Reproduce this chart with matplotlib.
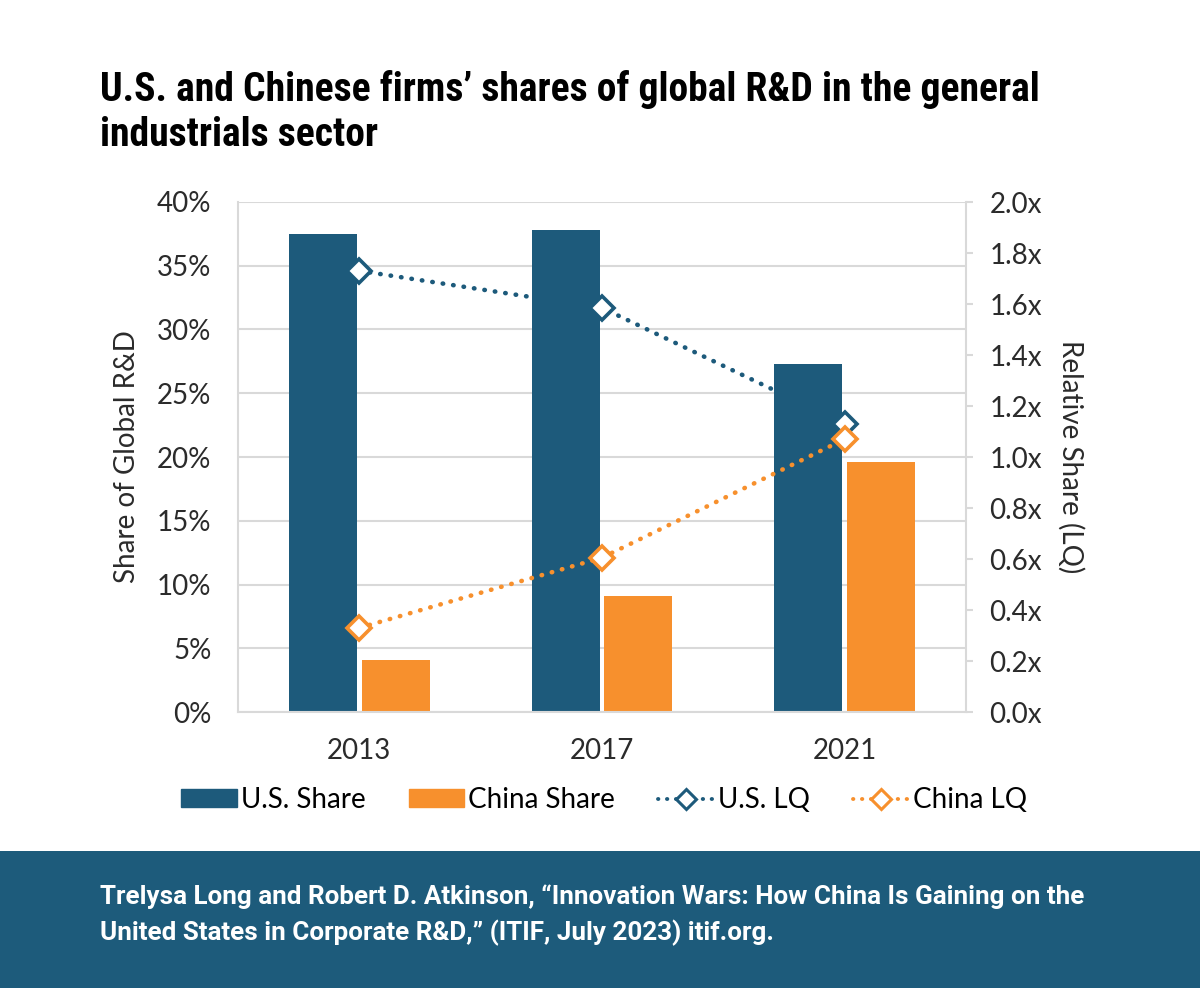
import numpy as np
import matplotlib
matplotlib.use('Agg')
from matplotlib import pyplot as plt
from matplotlib.patches import Patch, Rectangle
from matplotlib.lines import Line2D

years = ['2013', '2017', '2021']
us_share = [37.5, 37.8, 27.3]
china_share = [4.1, 9.1, 19.6]
us_lq = [1.73, 1.585, 1.13]
china_lq = [0.33, 0.605, 1.07]

blue = '#1d5a7b'
orange = '#f7902d'
grid = '#d9d9d9'
text_col = '#2b2b2b'
tick_font = ['Lato', 'DejaVu Sans']
title_font = ['Roboto Condensed', 'DejaVu Sans']
source_font = ['Roboto', 'DejaVu Sans']
dots = (0, (0.1, 2.2))

fig = plt.figure(figsize=(12, 9.88), dpi=100)
ax = fig.add_axes([238 / 1200, 1 - 712 / 988, 728 / 1200, 510 / 988])
ax2 = ax.twinx()

x = np.arange(len(years))
w = 0.28
ax.bar(x - 0.15, us_share, w, color=blue, zorder=2)
ax.bar(x + 0.15, china_share, w, color=orange, zorder=2)

ax.set_xlim(-0.5, 2.5)
ax.set_ylim(0, 40)
ax.set_yticks(np.arange(0, 41, 5))
ax.set_yticklabels([f'{v}%' for v in range(0, 41, 5)])
ax.set_xticks(x)
ax.set_xticklabels(years)
ax.yaxis.grid(True, color=grid, linewidth=1.5, zorder=0)
ax.set_axisbelow(True)
ax.tick_params(axis='y', length=0, pad=19, labelsize=20, labelcolor=text_col)
ax.tick_params(axis='x', length=0, pad=19, labelsize=20, labelcolor=text_col)
for side in ['top', 'right']:
    ax.spines[side].set_visible(False)
for side in ['left', 'bottom']:
    ax.spines[side].set_color(grid)
    ax.spines[side].set_linewidth(1.5)
ax.set_ylabel('Share of Global R&D', fontsize=20, color=text_col, labelpad=12,
              family=tick_font)

for vals, col in [(us_lq, blue), (china_lq, orange)]:
    ax2.plot(x, vals, color=col, linestyle=dots, linewidth=3.3,
             dash_capstyle='round', marker='D', markersize=12,
             markerfacecolor='white', markeredgecolor=col, markeredgewidth=2.6)
ax2.set_ylim(0, 2.0)
ax2.set_yticks(np.arange(0, 2.01, 0.2))
ax2.set_yticklabels([f'{v:.1f}x' for v in np.arange(0, 2.01, 0.2)])
ax2.tick_params(axis='y', length=5, width=1.5, color=grid, pad=12,
                labelsize=20, labelcolor=text_col)
for side in ['top', 'left', 'bottom']:
    ax2.spines[side].set_visible(False)
ax2.spines['right'].set_color(grid)
ax2.spines['right'].set_linewidth(1.5)
ax2.set_ylabel('Relative Share (LQ)', fontsize=20, color=text_col,
               rotation=-90, labelpad=30, family=tick_font)

for lab in ax.get_xticklabels() + ax.get_yticklabels() + ax2.get_yticklabels():
    lab.set_family(tick_font)

handles = [Patch(color=blue, label='U.S. Share'),
           Patch(color=orange, label='China Share')]
for col, name in [(blue, 'U.S. LQ'), (orange, 'China LQ')]:
    handles.append(Line2D([], [], color=col, linestyle=dots, linewidth=2.8,
                          dash_capstyle='round', marker='D', markersize=10,
                          markerfacecolor='white', markeredgecolor=col,
                          markeredgewidth=2.2, label=name))
fig.legend(handles=handles, loc='center', bbox_to_anchor=(604 / 1200, 1 - 800 / 988),
           ncol=4, frameon=False, handlelength=2.0, handleheight=0.6,
           handletextpad=0.15, columnspacing=1.55,
           prop={'family': tick_font, 'size': 20})

title_lines = ['U.S. and Chinese firms’ shares of global R&D in the general',
               'industrials sector']
for i, line in enumerate(title_lines):
    fig.text(100 / 1200, 1 - (101 + 45 * i) / 988, line, fontsize=28.5,
             fontweight='bold', family=title_font, color='black',
             va='baseline', ha='left')

fig.patches.append(Rectangle((0, 0), 1, 137 / 988, transform=fig.transFigure,
                             facecolor='#1d5b7b', edgecolor='none'))
source_lines = ['Trelysa Long and Robert D. Atkinson, “Innovation Wars: How China Is Gaining on the',
                'United States in Corporate R&D,” (ITIF, July 2023) itif.org.']
for i, line in enumerate(source_lines):
    fig.text(100 / 1200, 1 - (904 + 36 * i) / 988, line, fontsize=18.7,
             fontweight='bold', family=source_font, color='white',
             va='baseline', ha='left')

fig.savefig('out.png', dpi=100)
